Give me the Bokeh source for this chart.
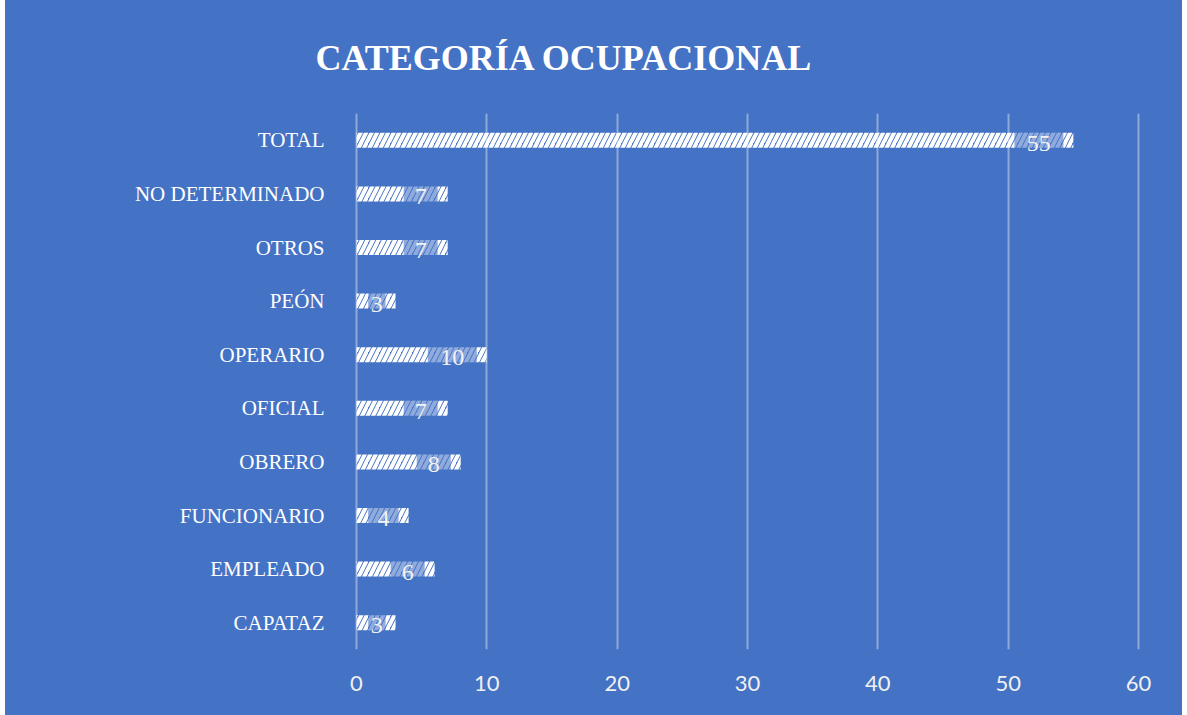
from bokeh.plotting import figure
from bokeh.models import ColumnDataSource, FactorRange, Range1d, LabelSet, Title, FixedTicker
from bokeh.embed import file_html
from bokeh.resources import INLINE

categories = ["CAPATAZ", "EMPLEADO", "FUNCIONARIO", "OBRERO", "OFICIAL",
              "OPERARIO", "PEÓN", "OTROS", "NO DETERMINADO", "TOTAL"]
values = [3, 6, 4, 8, 7, 10, 3, 7, 7, 55]
x_ticks = [0, 10, 20, 30, 40, 50, 60]
title_text = "CATEGORÍA OCUPACIONAL"

BG = "#4472C4"
PX = 60.3 / 786.0  # data units per pixel on the x axis

labs = [str(v) for v in values]
box_r = [v - 10 * PX for v in values]
box_l = [max(0.9, r - (19 + 15 * len(s)) * PX) for r, s in zip(box_r, labs)]
box_c = [(a + b) / 2 for a, b in zip(box_l, box_r)]

src = ColumnDataSource(dict(cat=categories, val=values, lab=labs,
                            bl=box_l, br=box_r, bc=box_c))

p = figure(width=1177, height=715, output_backend="svg", toolbar_location=None,
           y_range=FactorRange(factors=categories, range_padding=0),
           x_range=Range1d(-0.15, 60.15),
           min_border_left=349, min_border_right=42, min_border_top=113, min_border_bottom=66)
p.margin = (0, 5, 0, 5)
p.styles = {"background-color": BG}
p.background_fill_color = BG
p.border_fill_color = BG
p.outline_line_color = None

p.hbar(y="cat", right="val", left=0, height=0.28, source=src,
       fill_alpha=0, line_color=None,
       hatch_pattern="/", hatch_color="white", hatch_scale=11, hatch_weight=4)
p.hbar(y="cat", left="bl", right="br", height=0.3, source=src,
       fill_color=BG, fill_alpha=0.6, line_color=None)

labels = LabelSet(x="bc", y="cat", text="lab", source=src,
                  text_align="center", text_baseline="middle", y_offset=-3,
                  text_font="Liberation Serif", text_font_size="24px", text_color="#F2F2F2")
p.add_layout(labels)

p.add_layout(Title(text=title_text, align="left", offset=-39, standoff=71,
                   text_font="Liberation Serif", text_font_style="bold", text_font_size="36px",
                   text_color="white"), "above")

p.xaxis.ticker = FixedTicker(ticks=x_ticks)
p.xaxis.axis_line_color = None
p.xaxis.major_tick_line_color = None
p.xaxis.minor_tick_line_color = None
p.xaxis.major_label_text_font = "Lato"
p.xaxis.major_label_text_font_size = "22px"
p.xaxis.major_label_text_color = "#F0F0F0"
p.xaxis.major_label_standoff = 20

p.yaxis.axis_line_color = None
p.yaxis.major_tick_line_color = None
p.yaxis.minor_tick_line_color = None
p.yaxis.major_label_text_font = "Liberation Serif"
p.yaxis.major_label_text_font_size = "21px"
p.yaxis.major_label_text_color = "white"
p.yaxis.major_label_standoff = 24

p.xgrid.grid_line_color = "white"
p.xgrid.grid_line_alpha = 0.4
p.xgrid.grid_line_width = 2
p.ygrid.visible = False

open("out.html", "w").write(file_html(p, INLINE))
